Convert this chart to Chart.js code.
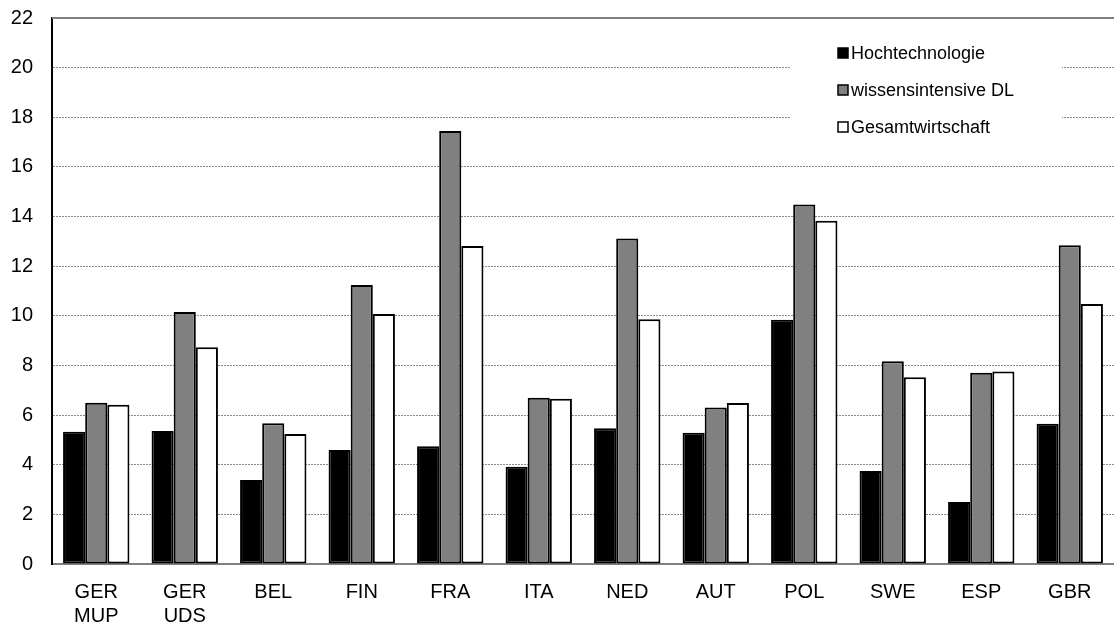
<!DOCTYPE html>
<html>
<head>
<meta charset="utf-8">
<script src="https://cdn.jsdelivr.net/npm/chart.js@4.4.0/dist/chart.umd.min.js"></script>
<style>
  html, body { margin: 0; padding: 0; background: #fff; }
  #wrap { width: 1114px; height: 626px; position: relative; }
</style>
</head>
<body>
<div id="wrap"><canvas id="c" width="1114" height="626"></canvas></div>
<script>
// Länder / Kategorien
const categories = [['GER', 'MUP'], ['GER', 'UDS'], 'BEL', 'FIN', 'FRA', 'ITA', 'NED', 'AUT', 'POL', 'SWE', 'ESP', 'GBR'];

// Anteile je Sektor
const hochtechnologie   = [5.33, 5.36, 3.38, 4.59, 4.74, 3.92, 5.47, 5.29, 9.84, 3.75, 2.50, 5.65];
const wissensintensiv   = [6.50, 10.15, 5.67, 11.24, 17.45, 6.70, 13.12, 6.31, 14.49, 8.17, 7.71, 12.84];
const gesamtwirtschaft  = [6.42, 8.73, 5.24, 10.07, 12.81, 6.66, 9.86, 6.49, 13.83, 7.52, 7.76, 10.48];

const seriesNames = ['Hochtechnologie', 'wissensintensive DL', 'Gesamtwirtschaft'];
const yTicks = [0, 2, 4, 6, 8, 10, 12, 14, 16, 18, 20, 22];

const FONT = 'Liberation Sans, Arial, sans-serif';

// Legende im Diagrammbereich, oben rechts, mit weißem Hintergrund
const legendBox = {
  id: 'legendBox',
  afterDatasetsDraw(chart) {
    const ctx = chart.ctx;
    const area = chart.chartArea;
    ctx.save();
    ctx.fillStyle = '#ffffff';
    ctx.fillRect(790, 30, 272, 118);
    ctx.font = '18px ' + FONT;
    ctx.textBaseline = 'middle';
    chart.data.datasets.forEach((ds, i) => {
      const y = 53 + i * 37;
      ctx.fillStyle = ds.backgroundColor;
      ctx.fillRect(838, y - 5, 10, 10);
      ctx.strokeStyle = '#000';
      ctx.lineWidth = 1.5;
      ctx.strokeRect(838, y - 5, 10, 10);
      ctx.fillStyle = '#000';
      ctx.fillText(ds.label, 851, y + 1);
    });
    // obere Begrenzungslinie
    ctx.strokeStyle = '#808080';
    ctx.lineWidth = 2;
    ctx.beginPath();
    ctx.moveTo(area.left, area.top);
    ctx.lineTo(area.right, area.top);
    ctx.stroke();
    ctx.restore();
  }
};

const barStyle = { borderColor: '#000', borderWidth: 2, borderSkipped: false };

new Chart(document.getElementById('c'), {
  type: 'bar',
  data: {
    labels: categories,
    datasets: [
      Object.assign({ label: seriesNames[0], data: hochtechnologie, backgroundColor: '#000000' }, barStyle),
      Object.assign({ label: seriesNames[1], data: wissensintensiv, backgroundColor: '#808080' }, barStyle),
      Object.assign({ label: seriesNames[2], data: gesamtwirtschaft, backgroundColor: '#ffffff' }, barStyle)
    ]
  },
  options: {
    responsive: false,
    animation: false,
    layout: { padding: { top: 18, right: 0, left: 0, bottom: 0 } },
    categoryPercentage: 0.75,
    barPercentage: 1.0,
    plugins: {
      legend: { display: false },
      tooltip: { enabled: false }
    },
    scales: {
      x: {
        grid: { display: false, drawTicks: false },
        border: { display: true, color: '#808080', width: 2 },
        ticks: {
          color: '#000',
          font: { family: FONT, size: 20, lineHeight: 1.17 },
          padding: 17,
          maxRotation: 0,
          autoSkip: false
        },
        afterFit(scale) {
          scale.height = 62;
          scale.paddingLeft = 0;
          scale.paddingRight = 0;
        }
      },
      y: {
        min: 0,
        max: 22,
        afterBuildTicks(scale) { scale.ticks = yTicks.map(v => ({ value: v })); },
        grid: {
          color: ctx => (ctx.tick && (ctx.tick.value === 0 || ctx.tick.value === 22)) ? 'rgba(0,0,0,0)' : '#8a8a8a',
          lineWidth: 1,
          drawTicks: false
        },
        border: { display: true, color: '#000', width: 2, dash: [2, 1] },
        ticks: {
          color: '#000',
          font: { family: FONT, size: 20 },
          padding: 19
        },
        afterFit(scale) {
          scale.width = 52;
          scale.paddingTop = 0;
          scale.paddingBottom = 0;
        }
      }
    }
  },
  plugins: [legendBox]
});
</script>
</body>
</html>
